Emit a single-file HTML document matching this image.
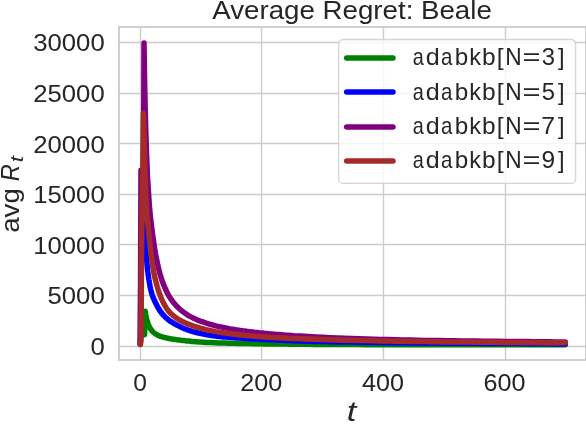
<!DOCTYPE html>
<html><head><meta charset="utf-8"><title>Average Regret: Beale</title>
<style>
html,body{margin:0;padding:0;background:#fff;}
body{width:586px;height:426px;overflow:hidden;font-family:"Liberation Sans",sans-serif;}
svg{display:block;will-change:transform;}
.t, .t text{font-family:"Liberation Sans",sans-serif;fill:#262626;}
</style></head><body>
<svg width="586" height="426" viewBox="0 0 586 426">
<rect x="0" y="0" width="586" height="426" fill="#ffffff"/>
<path d="M140.50 27.0V360.0M261.50 27.0V360.0M383.50 27.0V360.0M505.50 27.0V360.0M119.0 346.50H586.0M119.0 295.50H586.0M119.0 244.50H586.0M119.0 194.50H586.0M119.0 143.50H586.0M119.0 93.50H586.0M119.0 42.50H586.0" stroke="#cccccc" stroke-width="1.39" fill="none"/>
<clipPath id="ax"><rect x="119.0" y="27.0" width="467.0" height="333.0"/></clipPath>
<g clip-path="url(#ax)" fill="none" stroke-width="5.5" stroke-linecap="round" stroke-linejoin="round">
<path d="M140.3 344.1L141.0 326.9L141.6 328.9L142.2 330.4L142.8 331.9L143.4 332.9L144.0 334.0L144.6 334.6L145.2 311.2L145.8 315.0L146.4 318.1L147.0 320.5L147.6 322.5L148.3 324.3L148.9 325.7L149.5 327.0L150.1 328.1L150.7 329.1L151.3 329.9L151.9 330.7L152.5 331.4L153.1 332.0L153.7 332.5L154.3 333.0L154.9 333.5L155.5 333.9L156.2 334.3L156.8 334.6L157.4 335.0L158.0 335.3L158.6 335.6L159.2 335.8L159.8 336.1L160.4 336.3L161.0 336.5L161.6 336.7L162.2 336.9L162.8 337.1L163.5 337.2L164.1 337.4L164.7 337.5L165.3 337.7L165.9 337.8L166.5 337.9L167.1 338.1L167.7 338.2L168.3 338.3L168.9 338.5L169.5 338.6L170.1 338.7L170.7 338.8L171.4 338.9L172.0 339.0L172.6 339.1L173.2 339.2L173.8 339.3L174.4 339.4L175.0 339.5L175.6 339.5L176.2 339.6L176.8 339.7L179.3 340.0L181.7 340.4L184.1 340.6L186.6 340.9L189.0 341.1L191.4 341.4L193.8 341.6L196.3 341.7L198.7 341.9L201.1 342.1L203.6 342.2L206.0 342.4L208.4 342.5L210.9 342.6L213.3 342.7L215.7 342.8L218.2 342.9L220.6 343.0L223.0 343.1L225.5 343.1L227.9 343.2L230.3 343.2L232.8 343.3L235.2 343.3L237.6 343.4L240.0 343.4L242.5 343.5L244.9 343.5L247.3 343.6L249.8 343.6L252.2 343.7L254.6 343.7L257.1 343.8L259.5 343.8L261.9 343.8L264.4 343.9L266.8 343.9L269.2 343.9L271.7 344.0L274.1 344.0L276.5 344.0L279.0 344.1L281.4 344.1L283.8 344.1L286.2 344.1L288.7 344.2L291.1 344.2L293.5 344.2L300.8 344.3L308.1 344.3L315.4 344.4L322.7 344.4L330.0 344.5L337.3 344.5L344.6 344.6L351.9 344.6L359.2 344.6L366.5 344.7L373.8 344.7L381.1 344.7L388.4 344.7L395.7 344.8L403.0 344.8L410.3 344.8L417.6 344.8L424.8 344.8L432.1 344.8L439.4 344.8L446.7 344.8L454.0 344.8L461.3 344.8L468.6 344.8L475.9 344.8L483.2 344.8L490.5 344.8L497.8 344.8L505.1 344.8L512.4 344.8L519.7 344.8L527.0 344.8L534.3 344.8L541.6 344.8L548.9 344.8L556.2 344.8L563.4 344.8L565.3 344.8" stroke="#008000"/>
<path d="M140.3 344.1L141.0 255.0L141.6 209.5L142.2 214.5L142.8 219.6L143.4 224.7L144.0 229.7L144.6 234.8L145.2 240.9L145.8 247.4L146.4 256.7L147.0 264.1L147.6 270.2L148.3 275.3L148.9 279.6L149.5 283.3L150.1 286.5L150.7 289.3L151.3 291.8L151.9 294.0L152.5 295.9L153.1 297.5L153.7 298.8L154.3 300.1L154.9 301.5L155.5 302.8L156.2 304.1L156.8 305.3L157.4 306.4L158.0 307.5L158.6 308.6L159.2 309.5L159.8 310.5L160.4 311.3L161.0 312.2L161.6 313.0L162.2 313.8L162.8 314.5L163.5 315.2L164.1 315.9L164.7 316.5L165.3 317.1L165.9 317.7L166.5 318.2L167.1 318.7L167.7 319.2L168.3 319.7L168.9 320.2L169.5 320.6L170.1 321.1L170.7 321.5L171.4 321.9L172.0 322.3L172.6 322.6L173.2 323.0L173.8 323.4L174.4 323.7L175.0 324.1L175.6 324.4L176.2 324.8L176.8 325.1L179.3 326.3L181.7 327.5L184.1 328.6L186.6 329.5L189.0 330.4L191.4 331.2L193.8 331.9L196.3 332.5L198.7 333.1L201.1 333.6L203.6 334.1L206.0 334.6L208.4 335.0L210.9 335.4L213.3 335.7L215.7 336.1L218.2 336.4L220.6 336.6L223.0 336.9L225.5 337.1L227.9 337.3L230.3 337.5L232.8 337.6L235.2 337.8L237.6 338.0L240.0 338.1L242.5 338.3L244.9 338.4L247.3 338.6L249.8 338.7L252.2 338.9L254.6 339.0L257.1 339.1L259.5 339.2L261.9 339.4L264.4 339.5L266.8 339.6L269.2 339.7L271.7 339.8L274.1 339.9L276.5 340.0L279.0 340.2L281.4 340.2L283.8 340.3L286.2 340.4L288.7 340.5L291.1 340.6L293.5 340.7L300.8 340.9L308.1 341.2L315.4 341.4L322.7 341.5L330.0 341.7L337.3 341.9L344.6 342.0L351.9 342.1L359.2 342.3L366.5 342.4L373.8 342.5L381.1 342.6L388.4 342.7L395.7 342.8L403.0 342.8L410.3 342.9L417.6 343.0L424.8 343.0L432.1 343.1L439.4 343.1L446.7 343.2L454.0 343.2L461.3 343.2L468.6 343.3L475.9 343.3L483.2 343.4L490.5 343.4L497.8 343.5L505.1 343.5L512.4 343.6L519.7 343.6L527.0 343.7L534.3 343.7L541.6 343.8L548.9 343.8L556.2 343.9L563.4 343.9L565.3 343.9" stroke="#0000ff"/>
<path d="M140.3 344.1L141.0 170.3L141.6 189.2L142.2 199.4L142.8 206.4L143.4 211.5L144.0 43.1L144.6 80.3L145.2 108.7L145.8 131.4L146.4 149.8L147.0 165.2L147.6 178.3L148.3 189.4L148.9 199.0L149.5 207.1L150.1 213.9L150.7 219.5L151.3 224.5L151.9 229.1L152.5 233.5L153.1 237.8L153.7 242.1L154.3 246.3L154.9 250.2L155.5 253.8L156.2 257.1L156.8 260.3L157.4 263.2L158.0 266.0L158.6 268.5L159.2 270.9L159.8 273.2L160.4 275.3L161.0 277.3L161.6 279.2L162.2 281.0L162.8 282.7L163.5 284.3L164.1 285.9L164.7 287.3L165.3 288.7L165.9 290.1L166.5 291.3L167.1 292.5L167.7 293.7L168.3 294.8L168.9 295.8L169.5 296.8L170.1 297.8L170.7 298.7L171.4 299.6L172.0 300.5L172.6 301.3L173.2 302.1L173.8 302.9L174.4 303.6L175.0 304.3L175.6 305.0L176.2 305.7L176.8 306.3L179.3 308.7L181.7 310.8L184.1 312.6L186.6 314.3L189.0 315.8L191.4 317.1L193.8 318.3L196.3 319.4L198.7 320.5L201.1 321.4L203.6 322.2L206.0 323.0L208.4 323.8L210.9 324.5L213.3 325.1L215.7 325.8L218.2 326.4L220.6 326.9L223.0 327.4L225.5 327.9L227.9 328.4L230.3 328.9L232.8 329.3L235.2 329.7L237.6 330.1L240.0 330.4L242.5 330.8L244.9 331.1L247.3 331.4L249.8 331.7L252.2 332.0L254.6 332.3L257.1 332.5L259.5 332.8L261.9 333.0L264.4 333.3L266.8 333.5L269.2 333.8L271.7 334.0L274.1 334.2L276.5 334.4L279.0 334.6L281.4 334.8L283.8 335.0L286.2 335.2L288.7 335.3L291.1 335.5L293.5 335.7L300.8 336.1L308.1 336.6L315.4 337.0L322.7 337.3L330.0 337.7L337.3 338.0L344.6 338.2L351.9 338.5L359.2 338.8L366.5 339.0L373.8 339.2L381.1 339.4L388.4 339.6L395.7 339.8L403.0 339.9L410.3 340.1L417.6 340.2L424.8 340.4L432.1 340.5L439.4 340.6L446.7 340.7L454.0 340.8L461.3 340.9L468.6 341.0L475.9 341.1L483.2 341.2L490.5 341.3L497.8 341.3L505.1 341.4L512.4 341.5L519.7 341.6L527.0 341.6L534.3 341.7L541.6 341.8L548.9 341.8L556.2 341.9L563.4 341.9L565.3 341.9" stroke="#800080"/>
<path d="M140.3 344.5L141.0 340.0L141.6 250.0L142.2 204.4L142.8 174.1L143.4 113.3L144.0 135.5L144.6 157.1L145.2 177.2L145.8 194.7L146.4 208.5L147.0 215.8L147.6 221.3L148.3 227.9L148.9 234.1L149.5 240.2L150.1 246.1L150.7 251.4L151.3 256.3L151.9 260.6L152.5 264.5L153.1 268.2L153.7 271.6L154.3 274.7L154.9 277.6L155.5 280.3L156.2 282.8L156.8 285.1L157.4 287.3L158.0 289.3L158.6 291.1L159.2 292.9L159.8 294.6L160.4 296.1L161.0 297.6L161.6 299.0L162.2 300.4L162.8 301.7L163.5 302.9L164.1 304.1L164.7 305.2L165.3 306.3L165.9 307.2L166.5 308.2L167.1 309.1L167.7 309.9L168.3 310.7L168.9 311.4L169.5 312.1L170.1 312.7L170.7 313.4L171.4 313.9L172.0 314.5L172.6 315.0L173.2 315.6L173.8 316.0L174.4 316.5L175.0 317.0L175.6 317.4L176.2 317.8L176.8 318.3L179.3 319.8L181.7 321.2L184.1 322.3L186.6 323.4L189.0 324.4L191.4 325.3L193.8 326.2L196.3 327.0L198.7 327.7L201.1 328.4L203.6 329.0L206.0 329.6L208.4 330.1L210.9 330.6L213.3 331.1L215.7 331.6L218.2 332.0L220.6 332.4L223.0 332.7L225.5 333.1L227.9 333.4L230.3 333.7L232.8 334.0L235.2 334.3L237.6 334.6L240.0 334.9L242.5 335.1L244.9 335.4L247.3 335.6L249.8 335.8L252.2 336.0L254.6 336.2L257.1 336.4L259.5 336.6L261.9 336.8L264.4 337.0L266.8 337.1L269.2 337.3L271.7 337.4L274.1 337.6L276.5 337.7L279.0 337.8L281.4 338.0L283.8 338.1L286.2 338.2L288.7 338.3L291.1 338.4L293.5 338.5L300.8 338.8L308.1 339.1L315.4 339.3L322.7 339.6L330.0 339.8L337.3 340.0L344.6 340.2L351.9 340.3L359.2 340.5L366.5 340.6L373.8 340.8L381.1 340.9L388.4 341.0L395.7 341.2L403.0 341.3L410.3 341.4L417.6 341.5L424.8 341.6L432.1 341.7L439.4 341.8L446.7 341.9L454.0 341.9L461.3 342.0L468.6 342.1L475.9 342.2L483.2 342.2L490.5 342.3L497.8 342.3L505.1 342.4L512.4 342.5L519.7 342.5L527.0 342.6L534.3 342.6L541.6 342.7L548.9 342.7L556.2 342.7L563.4 342.8L565.3 342.8" stroke="#a52a2a"/>
</g>
<rect x="119.0" y="27.0" width="467.0" height="333.0" fill="none" stroke="#cccccc" stroke-width="1.85"/>
<rect x="338.6" y="39.5" width="237.0" height="143.9" rx="4.6" ry="4.6" fill="#ffffff" fill-opacity="0.8" stroke="#cccccc" stroke-opacity="0.8" stroke-width="1.4"/>
<path d="M346.7 58.0H393" stroke="#008000" stroke-width="5.5" stroke-linecap="round" fill="none"/>
<path d="M346.7 92.1H393" stroke="#0000ff" stroke-width="5.5" stroke-linecap="round" fill="none"/>
<path d="M346.7 126.9H393" stroke="#800080" stroke-width="5.5" stroke-linecap="round" fill="none"/>
<path d="M346.7 161.0H393" stroke="#a52a2a" stroke-width="5.5" stroke-linecap="round" fill="none"/>
<g class="t" font-size="24">
<text y="65.4"><tspan x="412.66" textLength="11.04" lengthAdjust="spacingAndGlyphs">a</tspan><tspan x="425.74" textLength="13.97" lengthAdjust="spacingAndGlyphs">d</tspan><tspan x="440.93" textLength="11.37" lengthAdjust="spacingAndGlyphs">a</tspan><tspan x="454.84" textLength="13.48" lengthAdjust="spacingAndGlyphs">b</tspan><tspan x="469.22" textLength="11.75" lengthAdjust="spacingAndGlyphs">k</tspan><tspan x="482.12" textLength="13.60" lengthAdjust="spacingAndGlyphs">b</tspan><tspan x="496.74" textLength="6.85" lengthAdjust="spacingAndGlyphs">[</tspan><tspan x="505.24" textLength="16.42" lengthAdjust="spacingAndGlyphs">N</tspan><tspan x="522.59" textLength="18.03" lengthAdjust="spacingAndGlyphs">=</tspan><tspan x="541.69" textLength="13.26" lengthAdjust="spacingAndGlyphs">3</tspan><tspan x="558.12" textLength="6.57" lengthAdjust="spacingAndGlyphs">]</tspan></text>
<text y="99.5"><tspan x="412.66" textLength="11.04" lengthAdjust="spacingAndGlyphs">a</tspan><tspan x="425.74" textLength="13.97" lengthAdjust="spacingAndGlyphs">d</tspan><tspan x="440.93" textLength="11.37" lengthAdjust="spacingAndGlyphs">a</tspan><tspan x="454.84" textLength="13.48" lengthAdjust="spacingAndGlyphs">b</tspan><tspan x="469.22" textLength="11.75" lengthAdjust="spacingAndGlyphs">k</tspan><tspan x="482.12" textLength="13.60" lengthAdjust="spacingAndGlyphs">b</tspan><tspan x="496.74" textLength="6.85" lengthAdjust="spacingAndGlyphs">[</tspan><tspan x="505.24" textLength="16.42" lengthAdjust="spacingAndGlyphs">N</tspan><tspan x="522.59" textLength="18.03" lengthAdjust="spacingAndGlyphs">=</tspan><tspan x="541.65" textLength="13.26" lengthAdjust="spacingAndGlyphs">5</tspan><tspan x="558.12" textLength="6.57" lengthAdjust="spacingAndGlyphs">]</tspan></text>
<text y="134.3"><tspan x="412.66" textLength="11.04" lengthAdjust="spacingAndGlyphs">a</tspan><tspan x="425.74" textLength="13.97" lengthAdjust="spacingAndGlyphs">d</tspan><tspan x="440.93" textLength="11.37" lengthAdjust="spacingAndGlyphs">a</tspan><tspan x="454.84" textLength="13.48" lengthAdjust="spacingAndGlyphs">b</tspan><tspan x="469.22" textLength="11.75" lengthAdjust="spacingAndGlyphs">k</tspan><tspan x="482.12" textLength="13.60" lengthAdjust="spacingAndGlyphs">b</tspan><tspan x="496.74" textLength="6.85" lengthAdjust="spacingAndGlyphs">[</tspan><tspan x="505.24" textLength="16.42" lengthAdjust="spacingAndGlyphs">N</tspan><tspan x="522.59" textLength="18.03" lengthAdjust="spacingAndGlyphs">=</tspan><tspan x="541.33" textLength="13.82" lengthAdjust="spacingAndGlyphs">7</tspan><tspan x="558.12" textLength="6.57" lengthAdjust="spacingAndGlyphs">]</tspan></text>
<text y="168.4"><tspan x="412.66" textLength="11.04" lengthAdjust="spacingAndGlyphs">a</tspan><tspan x="425.74" textLength="13.97" lengthAdjust="spacingAndGlyphs">d</tspan><tspan x="440.93" textLength="11.37" lengthAdjust="spacingAndGlyphs">a</tspan><tspan x="454.84" textLength="13.48" lengthAdjust="spacingAndGlyphs">b</tspan><tspan x="469.22" textLength="11.75" lengthAdjust="spacingAndGlyphs">k</tspan><tspan x="482.12" textLength="13.60" lengthAdjust="spacingAndGlyphs">b</tspan><tspan x="496.74" textLength="6.85" lengthAdjust="spacingAndGlyphs">[</tspan><tspan x="505.24" textLength="16.42" lengthAdjust="spacingAndGlyphs">N</tspan><tspan x="522.59" textLength="18.03" lengthAdjust="spacingAndGlyphs">=</tspan><tspan x="541.45" textLength="13.61" lengthAdjust="spacingAndGlyphs">9</tspan><tspan x="558.12" textLength="6.57" lengthAdjust="spacingAndGlyphs">]</tspan></text>
<text x="90.4" y="355.0" textLength="14.3" lengthAdjust="spacingAndGlyphs">0</text>
<text x="47.5" y="304.4" textLength="57.2" lengthAdjust="spacingAndGlyphs">5000</text>
<text x="33.2" y="253.8" textLength="71.5" lengthAdjust="spacingAndGlyphs">10000</text>
<text x="33.2" y="203.2" textLength="71.5" lengthAdjust="spacingAndGlyphs">15000</text>
<text x="33.2" y="152.6" textLength="71.5" lengthAdjust="spacingAndGlyphs">20000</text>
<text x="33.2" y="102.0" textLength="71.5" lengthAdjust="spacingAndGlyphs">25000</text>
<text x="33.2" y="51.4" textLength="71.5" lengthAdjust="spacingAndGlyphs">30000</text>
<text x="133.3" y="390.9" textLength="13.7" lengthAdjust="spacingAndGlyphs">0</text>
<text x="240.3" y="390.9" textLength="42.0" lengthAdjust="spacingAndGlyphs">200</text>
<text x="361.9" y="390.9" textLength="42.0" lengthAdjust="spacingAndGlyphs">400</text>
<text x="483.4" y="390.9" textLength="42.0" lengthAdjust="spacingAndGlyphs">600</text>
</g>
<text class="t" font-size="25.2" x="212.3" y="18.7" textLength="279.5" lengthAdjust="spacingAndGlyphs">Average Regret: Beale</text>
<text class="t" font-size="26.8" font-style="italic" x="346.8" y="420.6" textLength="9.6" lengthAdjust="spacingAndGlyphs">t</text>
<g transform="translate(18.6 232.8) rotate(-90)"><text class="t" font-size="25.2" x="0" y="0" textLength="44.6" lengthAdjust="spacingAndGlyphs">avg</text><text class="t" font-size="25.2" font-style="italic" x="51.5" y="0.3" textLength="17" lengthAdjust="spacingAndGlyphs">R</text><text class="t" font-size="18" font-style="italic" x="70.5" y="4.6" textLength="6.3" lengthAdjust="spacingAndGlyphs">t</text></g>
</svg>
</body></html>
